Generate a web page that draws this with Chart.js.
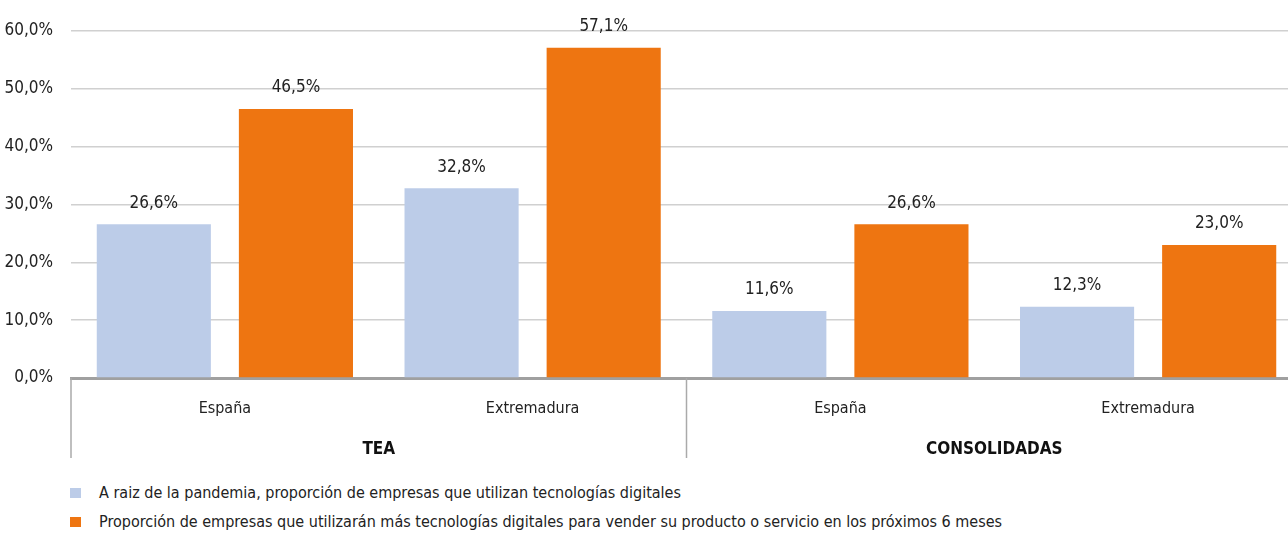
<!DOCTYPE html>
<html>
<head>
<meta charset="utf-8">
<script src="https://cdn.jsdelivr.net/npm/chart.js@4.4.0/dist/chart.umd.min.js"></script>
<style>
  html, body { margin: 0; padding: 0; background: #fff; }
  body { width: 1288px; height: 537px; overflow: hidden; position: relative; font-family: "Liberation Sans Narrow", "DejaVu Sans Condensed", sans-serif; color: #222; }
  #wrap { position: absolute; left: 0; top: 0; width: 1302px; height: 470px; }
  #legend { position: absolute; left: 70px; top: 478px; font-size: 16px; }
  .item { display: flex; align-items: center; height: 29px; }
  .box { width: 11px; height: 10px; margin-right: 18px; }
</style>
</head>
<body>
<div id="wrap"><canvas id="chart"></canvas></div>
<div id="legend"></div>
<script>
const categories = ['España', 'Extremadura', 'España', 'Extremadura'];
const groups = ['TEA', 'CONSOLIDADAS'];
const seriesNames = [
    'A raiz de la pandemia, proporción de empresas que utilizan tecnologías digitales',
    'Proporción de empresas que utilizarán más tecnologías digitales para vender su producto o servicio en los próximos 6 meses'
];
const usanDigital = [26.6, 32.8, 11.6, 12.3];
const usaranMas = [46.5, 57.1, 26.6, 23.0];
const yTicks = [0, 10, 20, 30, 40, 50, 60];

const blue = '#BCCCE8';
const orange = '#EE7511';
const fontFamily = '"Liberation Sans Narrow", "DejaVu Sans Condensed", sans-serif';

const fmt = v => v.toFixed(1).replace('.', ',') + '%';

// etiquetas sobre cada barra
const valueLabels = {
    id: 'valueLabels',
    afterDatasetsDraw(chart) {
        const ctx = chart.ctx;
        ctx.save();
        ctx.font = '17px ' + fontFamily;
        ctx.fillStyle = '#222';
        ctx.textAlign = 'center';
        ctx.textBaseline = 'middle';
        chart.data.datasets.forEach((ds, i) => {
            chart.getDatasetMeta(i).data.forEach((bar, j) => {
                ctx.fillText(fmt(ds.data[j]), bar.x, bar.y - 21);
            });
        });
        ctx.restore();
    }
};

// segundo nivel del eje x: separadores y nombres de grupo
const groupAxis = {
    id: 'groupAxis',
    afterDraw(chart) {
        const ctx = chart.ctx;
        const x = chart.scales.x;
        const top = chart.chartArea.bottom;
        const step = x.getPixelForValue(1) - x.getPixelForValue(0);
        ctx.save();
        ctx.strokeStyle = '#aaaaaa';
        ctx.lineWidth = 1.5;
        ctx.font = 'bold 17px ' + fontFamily;
        ctx.fillStyle = '#111';
        ctx.textAlign = 'center';
        ctx.textBaseline = 'middle';
        const per = categories.length / groups.length;
        for (let g = 0; g <= groups.length; g++) {
            const px = x.getPixelForValue(g * per) - step / 2;
            ctx.beginPath();
            ctx.moveTo(px, top);
            ctx.lineTo(px, top + 80);
            ctx.stroke();
        }
        groups.forEach((name, g) => {
            const left = x.getPixelForValue(g * per) - step / 2;
            const right = x.getPixelForValue((g + 1) * per) - step / 2;
            ctx.fillText(name, (left + right) / 2, top + 72);
        });
        ctx.restore();
    }
};

const chart = new Chart(document.getElementById('chart'), {
    type: 'bar',
    data: {
        labels: categories,
        datasets: [
            { label: seriesNames[0], data: usanDigital, backgroundColor: blue },
            { label: seriesNames[1], data: usaranMas, backgroundColor: orange }
        ]
    },
    options: {
        responsive: true,
        maintainAspectRatio: false,
        animation: false,
        datasets: { bar: { categoryPercentage: 0.9236, barPercentage: 0.803 } },
        layout: { padding: { top: 31, right: 0, left: 0, bottom: 0 } },
        plugins: {
            legend: { display: false },
            tooltip: { enabled: false }
        },
        scales: {
            x: {
                grid: { display: false },
                border: { color: '#a0a0a0', width: 3 },
                ticks: { color: '#222', font: { family: fontFamily, size: 16 }, padding: 13 },
                afterFit: s => { s.height = 92; }
            },
            y: {
                min: 0,
                max: 60,
                afterBuildTicks: s => { s.ticks = yTicks.map(v => ({ value: v })); },
                grid: { color: '#d0d0d0', lineWidth: 1.5, drawTicks: false },
                border: { display: false },
                ticks: {
                    color: '#222',
                    font: { family: fontFamily, size: 17 },
                    padding: 18,
                    callback: v => fmt(v)
                },
                afterFit: s => { s.width = 71; }
            }
        }
    },
    plugins: [valueLabels, groupAxis]
});

const legend = document.getElementById('legend');
seriesNames.forEach((name, i) => {
    const item = document.createElement('div');
    item.className = 'item';
    item.innerHTML = '<span class="box" style="background:' + [blue, orange][i] + '"></span><span>' + name + '</span>';
    legend.appendChild(item);
});
</script>
</body>
</html>
